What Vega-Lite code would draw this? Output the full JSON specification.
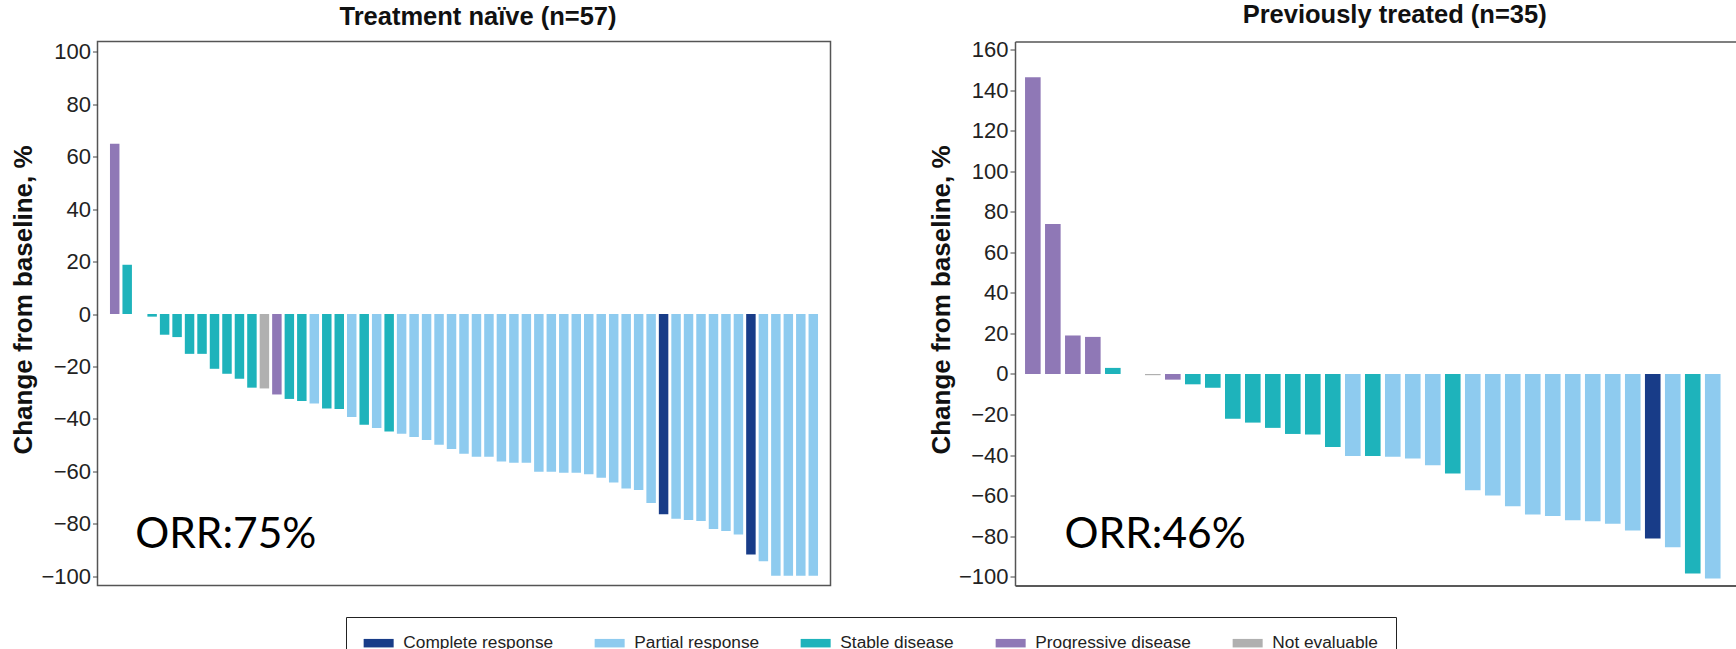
{
  "$schema": "https://vega.github.io/schema/vega-lite/v6.json",
  "padding": {"left": 9.5, "top": 2.5, "right": 0, "bottom": 0},
  "background": "white",
  "datasets": {
    "naive": [
      {"pt": 1, "change": 65, "response": "Progressive disease"},
      {"pt": 2, "change": 18.8, "response": "Stable disease"},
      {"pt": 3, "change": 0, "response": "Stable disease"},
      {"pt": 4, "change": -1, "response": "Stable disease"},
      {"pt": 5, "change": -7.9, "response": "Stable disease"},
      {"pt": 6, "change": -8.8, "response": "Stable disease"},
      {"pt": 7, "change": -15.2, "response": "Stable disease"},
      {"pt": 8, "change": -15.2, "response": "Stable disease"},
      {"pt": 9, "change": -20.9, "response": "Stable disease"},
      {"pt": 10, "change": -22.8, "response": "Stable disease"},
      {"pt": 11, "change": -24.7, "response": "Stable disease"},
      {"pt": 12, "change": -28.1, "response": "Stable disease"},
      {"pt": 13, "change": -28.4, "response": "Not evaluable"},
      {"pt": 14, "change": -30.7, "response": "Progressive disease"},
      {"pt": 15, "change": -32.4, "response": "Stable disease"},
      {"pt": 16, "change": -33.2, "response": "Stable disease"},
      {"pt": 17, "change": -34.1, "response": "Partial response"},
      {"pt": 18, "change": -36.1, "response": "Stable disease"},
      {"pt": 19, "change": -36.2, "response": "Stable disease"},
      {"pt": 20, "change": -39.3, "response": "Partial response"},
      {"pt": 21, "change": -42.3, "response": "Stable disease"},
      {"pt": 22, "change": -43.5, "response": "Partial response"},
      {"pt": 23, "change": -44.8, "response": "Stable disease"},
      {"pt": 24, "change": -45.7, "response": "Partial response"},
      {"pt": 25, "change": -46.9, "response": "Partial response"},
      {"pt": 26, "change": -48.1, "response": "Partial response"},
      {"pt": 27, "change": -49.9, "response": "Partial response"},
      {"pt": 28, "change": -51.5, "response": "Partial response"},
      {"pt": 29, "change": -53.3, "response": "Partial response"},
      {"pt": 30, "change": -54.5, "response": "Partial response"},
      {"pt": 31, "change": -54.5, "response": "Partial response"},
      {"pt": 32, "change": -56.3, "response": "Partial response"},
      {"pt": 33, "change": -56.8, "response": "Partial response"},
      {"pt": 34, "change": -56.8, "response": "Partial response"},
      {"pt": 35, "change": -60.2, "response": "Partial response"},
      {"pt": 36, "change": -60.2, "response": "Partial response"},
      {"pt": 37, "change": -60.6, "response": "Partial response"},
      {"pt": 38, "change": -60.6, "response": "Partial response"},
      {"pt": 39, "change": -61.1, "response": "Partial response"},
      {"pt": 40, "change": -62.5, "response": "Partial response"},
      {"pt": 41, "change": -64.3, "response": "Partial response"},
      {"pt": 42, "change": -66.6, "response": "Partial response"},
      {"pt": 43, "change": -67.2, "response": "Partial response"},
      {"pt": 44, "change": -72.1, "response": "Partial response"},
      {"pt": 45, "change": -76.4, "response": "Complete response"},
      {"pt": 46, "change": -78.1, "response": "Partial response"},
      {"pt": 47, "change": -78.6, "response": "Partial response"},
      {"pt": 48, "change": -79, "response": "Partial response"},
      {"pt": 49, "change": -82, "response": "Partial response"},
      {"pt": 50, "change": -82.8, "response": "Partial response"},
      {"pt": 51, "change": -84.1, "response": "Partial response"},
      {"pt": 52, "change": -91.8, "response": "Complete response"},
      {"pt": 53, "change": -94.3, "response": "Partial response"},
      {"pt": 54, "change": -99.9, "response": "Partial response"},
      {"pt": 55, "change": -99.9, "response": "Partial response"},
      {"pt": 56, "change": -99.9, "response": "Partial response"},
      {"pt": 57, "change": -99.9, "response": "Partial response"}
    ],
    "treated": [
      {"pt": 1, "change": 146.4, "response": "Progressive disease"},
      {"pt": 2, "change": 74, "response": "Progressive disease"},
      {"pt": 3, "change": 19, "response": "Progressive disease"},
      {"pt": 4, "change": 18.3, "response": "Progressive disease"},
      {"pt": 5, "change": 3, "response": "Stable disease"},
      {"pt": 6, "change": 0, "response": "Stable disease"},
      {"pt": 7, "change": -0.6, "response": "Not evaluable"},
      {"pt": 8, "change": -2.8, "response": "Progressive disease"},
      {"pt": 9, "change": -5.1, "response": "Stable disease"},
      {"pt": 10, "change": -6.8, "response": "Stable disease"},
      {"pt": 11, "change": -22.1, "response": "Stable disease"},
      {"pt": 12, "change": -24, "response": "Stable disease"},
      {"pt": 13, "change": -26.6, "response": "Stable disease"},
      {"pt": 14, "change": -29.6, "response": "Stable disease"},
      {"pt": 15, "change": -29.9, "response": "Stable disease"},
      {"pt": 16, "change": -36, "response": "Stable disease"},
      {"pt": 17, "change": -40.5, "response": "Partial response"},
      {"pt": 18, "change": -40.5, "response": "Stable disease"},
      {"pt": 19, "change": -40.8, "response": "Partial response"},
      {"pt": 20, "change": -41.7, "response": "Partial response"},
      {"pt": 21, "change": -45, "response": "Partial response"},
      {"pt": 22, "change": -49.1, "response": "Stable disease"},
      {"pt": 23, "change": -57.4, "response": "Partial response"},
      {"pt": 24, "change": -60, "response": "Partial response"},
      {"pt": 25, "change": -65.3, "response": "Partial response"},
      {"pt": 26, "change": -69.4, "response": "Partial response"},
      {"pt": 27, "change": -70.1, "response": "Partial response"},
      {"pt": 28, "change": -72.2, "response": "Partial response"},
      {"pt": 29, "change": -72.7, "response": "Partial response"},
      {"pt": 30, "change": -73.9, "response": "Partial response"},
      {"pt": 31, "change": -77.2, "response": "Partial response"},
      {"pt": 32, "change": -81.2, "response": "Complete response"},
      {"pt": 33, "change": -85.5, "response": "Partial response"},
      {"pt": 34, "change": -98.5, "response": "Stable disease"},
      {"pt": 35, "change": -101, "response": "Partial response"}
    ],
    "orr": [
      {"group": "naive", "pt": 3, "change": -89.2, "label": "ORR:75%"},
      {"group": "treated", "pt": 3, "change": -85.8, "label": "ORR:46%"}
    ]
  },
  "spacing": 96.5,
  "hconcat": [
    {
      "width": 733,
      "height": 544,
      "title": {"text": "Treatment naïve (n=57)", "frame": "group", "dx": 14, "offset": 10},
      "layer": [
        {
          "data": {"name": "naive"},
          "mark": {"type": "bar"},
          "encoding": {
            "x": {"field": "pt", "type": "ordinal", "scale": {"paddingInner": 0.24, "paddingOuter": 1.06, "round": false}, "axis": null},
            "y": {
              "field": "change", "type": "quantitative",
              "scale": {"domain": [-103.6, 104], "nice": false},
              "axis": {"values": [-100, -80, -60, -40, -20, 0, 20, 40, 60, 80, 100], "title": "Change from baseline, %", "domain": false}
            },
            "color": {
              "field": "response", "type": "nominal",
              "scale": {
                "domain": ["Complete response", "Partial response", "Stable disease", "Progressive disease", "Not evaluable"],
                "range": ["#183C88", "#8ECBEF", "#1EB3BB", "#8F78B6", "#B0B0B0"]
              },
              "legend": {
                "orient": "none", "legendX": 248.5, "legendY": 575.5, "direction": "horizontal", "title": null,
                "strokeColor": "#222", "padding": 17.5,
                "symbolType": "M-1.765,-0.5H1.765V0.5H-1.765Z", "symbolSize": 289, "symbolStrokeWidth": 0, "symbolOffset": 6.5,
                "labelFontSize": 17.3, "labelOffset": 16, "columnPadding": 41, "labelColor": "#222", "labelLimit": 300
              }
            }
          }
        },
        {
          "mark": {"type": "rule", "color": "#333", "strokeWidth": 1.3},
          "encoding": {"y": {"datum": 0}}
        },
        {
          "data": {"name": "orr"},
          "transform": [{"filter": "datum.group == 'naive'"}],
          "mark": {"type": "text", "font": "Lato", "fontSize": 42.5, "align": "left", "baseline": "alphabetic", "dx": -4.5, "color": "#000"},
          "encoding": {
            "x": {"field": "pt", "type": "ordinal"},
            "y": {"field": "change", "type": "quantitative"},
            "text": {"field": "label"}
          }
        }
      ]
    },
    {
      "width": 729.3,
      "height": 544,
      "view": {"stroke": null},
      "title": {"text": "Previously treated (n=35)", "frame": "group", "dx": 15, "offset": 10},
      "resolve": {"axis": {"x": "independent"}},
      "layer": [
        {
          "data": {"name": "treated"},
          "mark": {"type": "bar"},
          "encoding": {
            "x": {"field": "pt", "type": "ordinal", "scale": {"paddingInner": 0.22, "paddingOuter": 0.845, "align": 0.297, "round": false},
                  "axis": {"orient": "bottom", "title": null, "labels": false, "ticks": false, "domain": true, "domainColor": "#222", "domainWidth": 1.5}},
            "y": {
              "field": "change", "type": "quantitative",
              "scale": {"domain": [-104.4, 164.1], "nice": false},
              "axis": {"values": [-100, -80, -60, -40, -20, 0, 20, 40, 60, 80, 100, 120, 140, 160], "title": "Change from baseline, %", "domain": true}
            },
            "color": {"field": "response", "type": "nominal"}
          }
        },
        {
          "mark": {"type": "rule", "color": "#999", "strokeWidth": 1.3},
          "encoding": {"y": {"datum": 0}}
        },
        {
          "data": {"name": "orr"},
          "transform": [{"filter": "datum.group == 'treated'"}],
          "mark": {"type": "text", "font": "Lato", "fontSize": 42.5, "align": "left", "baseline": "alphabetic", "dx": -8.3, "color": "#000"},
          "encoding": {
            "x": {"field": "pt", "type": "ordinal",
                  "axis": {"orient": "top", "title": null, "labels": false, "ticks": false, "domain": true, "domainColor": "#555", "domainWidth": 1.5}},
            "y": {"field": "change", "type": "quantitative"},
            "text": {"field": "label"}
          }
        }
      ]
    }
  ],
  "resolve": {"scale": {"color": "shared"}},
  "config": {
    "font": "Liberation Sans",
    "view": {"stroke": "#555", "strokeWidth": 1.5},
    "axis": {
      "labelFont": "Liberation Sans", "labelFontSize": 22, "labelColor": "#222", "labelPadding": 2,
      "titleFont": "Liberation Sans", "titleFontSize": 26, "titleFontWeight": "bold", "titleColor": "#111", "titlePadding": 4, "titleY": 258,
      "tickColor": "#444", "tickSize": 5, "domainColor": "#555", "domainWidth": 1.5, "grid": false
    },
    "title": {"font": "Liberation Sans", "fontSize": 25.5, "fontWeight": "bold", "color": "#111"}
  }
}
